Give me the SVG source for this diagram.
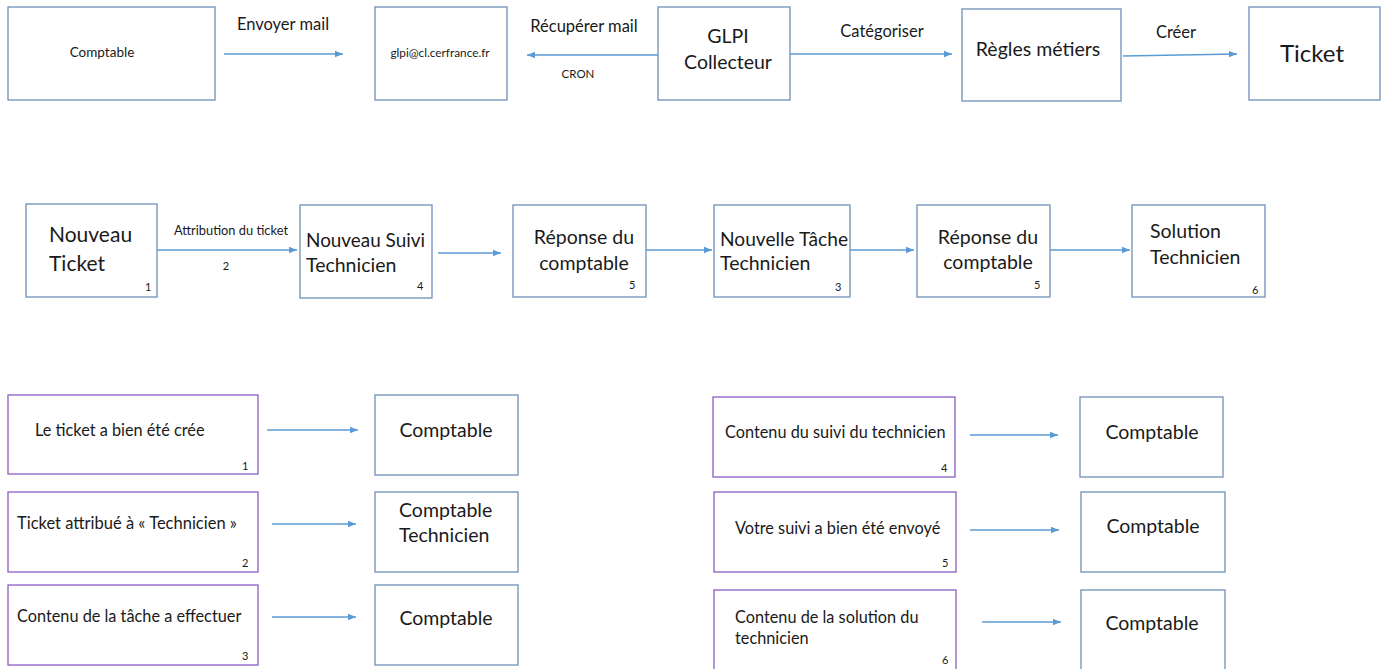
<svg xmlns="http://www.w3.org/2000/svg" width="1388" height="669" viewBox="0 0 1388 669">
<defs>
<marker id="ah" viewBox="0 0 10 10" refX="10" refY="5" markerWidth="8" markerHeight="8" markerUnits="userSpaceOnUse" orient="auto"><path d="M0,1 L10,5 L0,9 z" fill="#5b9bd5"/></marker>
<style>
.b{fill:#fff;stroke:#6d8fb8;stroke-width:1.3}
.p{fill:#fff;stroke:#8b5fc2;stroke-width:1.3}
.c{stroke:#5b9bd5;stroke-width:1.3;fill:none;marker-end:url(#ah)}
text{font-family:Lato,"Open Sans","Liberation Sans",sans-serif;fill:#1a1a1a}
.m{text-anchor:middle}
.n{font-size:11px}
.t18{font-size:19.5px}
.t15{font-size:16.3px}
.lb{font-size:16.5px}
</style>
</defs>
<rect width="1388" height="669" fill="#fff"/>
<g id="connectors">
<line class="c" x1="224" y1="54" x2="343" y2="54"/>
<line class="c" x1="658" y1="55" x2="527" y2="55"/>
<line class="c" x1="790" y1="54" x2="952" y2="54"/>
<line class="c" x1="1123" y1="56" x2="1237" y2="54"/>
<line class="c" x1="157" y1="250" x2="297" y2="250"/>
<line class="c" x1="438" y1="253" x2="501" y2="253"/>
<line class="c" x1="646" y1="250" x2="712" y2="250"/>
<line class="c" x1="850" y1="250" x2="914" y2="250"/>
<line class="c" x1="1050" y1="250" x2="1130" y2="250"/>
<line class="c" x1="267" y1="430" x2="358" y2="430"/>
<line class="c" x1="272" y1="524" x2="356" y2="524"/>
<line class="c" x1="272" y1="617" x2="356" y2="617"/>
<line class="c" x1="970" y1="435" x2="1058" y2="435"/>
<line class="c" x1="970" y1="530" x2="1059" y2="530"/>
<line class="c" x1="982" y1="622" x2="1061" y2="622"/>
<text x="283" y="30" class="m lb">Envoyer mail</text>
<text x="584" y="32" class="m lb">Récupérer mail</text>
<text x="578" y="78" class="m" style="font-size:11.5px">CRON</text>
<text x="882" y="37" class="m lb">Catégoriser</text>
<text x="1176" y="38" class="m lb">Créer</text>
<text x="231" y="235" class="m" style="font-size:12.5px" textLength="114" lengthAdjust="spacingAndGlyphs">Attribution du ticket</text>
<text x="226" y="270" class="m n">2</text>
</g>
<g id="n-comptable"><rect class="b" x="8" y="7" width="207" height="93"/><text x="102" y="57" class="m" style="font-size:13.5px">Comptable</text></g>
<g id="n-glpi-mail"><rect class="b" x="375" y="7" width="132" height="93"/><text x="440" y="57" class="m" style="font-size:11.8px">glpi@cl.cerfrance.fr</text></g>
<g id="n-collecteur"><rect class="b" x="658" y="7" width="132" height="93"/><text x="728" y="43" class="m t18">GLPI</text><text x="728" y="69" class="m t18">Collecteur</text></g>
<g id="n-regles"><rect class="b" x="962" y="9" width="159" height="92"/><text x="1038" y="56" class="m t18">Règles métiers</text></g>
<g id="n-ticket"><rect class="b" x="1249" y="7" width="131" height="93"/><text x="1312" y="62" class="m" style="font-size:24px">Ticket</text></g>

<g id="n-nouveau-ticket"><rect class="b" x="26" y="204" width="131" height="93"/><text x="49" y="242" style="font-size:21px">Nouveau</text><text x="49" y="271" style="font-size:21px">Ticket</text><text x="145" y="291" class="n">1</text></g>
<g id="n-suivi"><rect class="b" x="300" y="205" width="132" height="93"/><text x="306" y="247" class="t18" textLength="119" lengthAdjust="spacingAndGlyphs">Nouveau Suivi</text><text x="306" y="272" class="t18">Technicien</text><text x="417" y="290" class="n">4</text></g>
<g id="n-reponse1"><rect class="b" x="513" y="205" width="133" height="92"/><text x="584" y="244" class="m t18">Réponse du</text><text x="584" y="270" class="m t18">comptable</text><text x="629" y="289" class="n">5</text></g>
<g id="n-tache"><rect class="b" x="714" y="205" width="136" height="92"/><text x="720" y="246" class="t18" textLength="128" lengthAdjust="spacingAndGlyphs">Nouvelle Tâche</text><text x="720" y="270" class="t18">Technicien</text><text x="835" y="291" class="n">3</text></g>
<g id="n-reponse2"><rect class="b" x="917" y="205" width="133" height="92"/><text x="988" y="244" class="m t18">Réponse du</text><text x="988" y="269" class="m t18">comptable</text><text x="1034" y="289" class="n">5</text></g>
<g id="n-solution"><rect class="b" x="1132" y="205" width="133" height="92"/><text x="1150" y="238" class="t18">Solution</text><text x="1150" y="264" class="t18">Technicien</text><text x="1252" y="294" class="n">6</text></g>

<g id="m1"><rect class="p" x="8" y="395" width="250" height="79"/><text x="35" y="436" class="t15">Le ticket a bien été crée</text><text x="242" y="470" class="n">1</text></g>
<g id="r1"><rect class="b" x="375" y="395" width="143" height="80"/><text x="446" y="437" class="m t18">Comptable</text></g>
<g id="m2"><rect class="p" x="8" y="492" width="250" height="80"/><text x="17" y="529" style="font-size:16.5px">Ticket attribué à « Technicien »</text><text x="242" y="567" class="n">2</text></g>
<g id="r2"><rect class="b" x="375" y="492" width="143" height="80"/><text x="399" y="517" class="t18">Comptable</text><text x="399" y="542" class="t18">Technicien</text></g>
<g id="m3"><rect class="p" x="8" y="585" width="250" height="80"/><text x="17" y="622" class="t15">Contenu de la tâche a effectuer</text><text x="242" y="660" class="n">3</text></g>
<g id="r3"><rect class="b" x="375" y="585" width="143" height="80"/><text x="446" y="625" class="m t18">Comptable</text></g>

<g id="m4"><rect class="p" x="713" y="397" width="242" height="80"/><text x="725" y="438" class="t15">Contenu du suivi du technicien</text><text x="941" y="472" class="n">4</text></g>
<g id="r4"><rect class="b" x="1080" y="397" width="143" height="80"/><text x="1152" y="439" class="m t18">Comptable</text></g>
<g id="m5"><rect class="p" x="714" y="492" width="242" height="80"/><text x="735" y="534" class="t15">Votre suivi a bien été envoyé</text><text x="942" y="567" class="n">5</text></g>
<g id="r5"><rect class="b" x="1081" y="492" width="144" height="80"/><text x="1153" y="533" class="m t18">Comptable</text></g>
<g id="m6"><rect class="p" x="714" y="590" width="242" height="82"/><text x="735" y="623" class="t15">Contenu de la solution du</text><text x="735" y="644" class="t15">technicien</text><text x="942" y="664" class="n">6</text></g>
<g id="r6"><rect class="b" x="1081" y="590" width="144" height="82"/><text x="1152" y="630" class="m t18">Comptable</text></g>
</svg>
